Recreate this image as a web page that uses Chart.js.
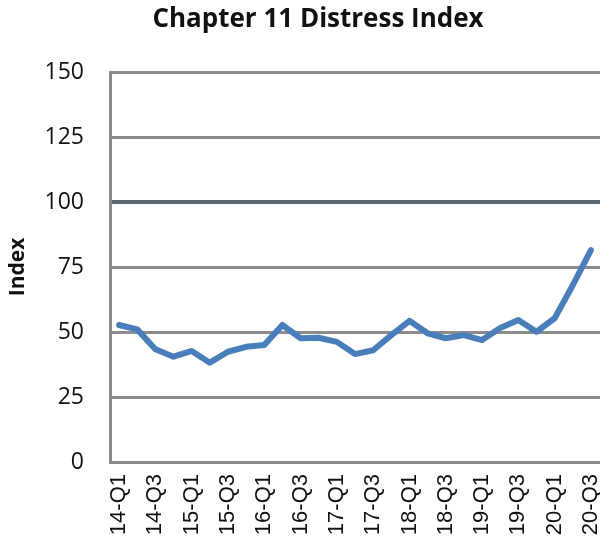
<!DOCTYPE html>
<html>
<head>
<meta charset="utf-8">
<script src="https://cdn.jsdelivr.net/npm/chart.js@4/dist/chart.umd.min.js"></script>
<style>
  html, body { margin: 0; padding: 0; background: #ffffff; }
  #wrap { width: 600px; height: 544px; position: relative; }
</style>
</head>
<body>
<div id="wrap"><canvas id="c" width="600" height="544"></canvas></div>
<script>
const categories = [
  "14-Q1","14-Q2","14-Q3","14-Q4",
  "15-Q1","15-Q2","15-Q3","15-Q4",
  "16-Q1","16-Q2","16-Q3","16-Q4",
  "17-Q1","17-Q2","17-Q3","17-Q4",
  "18-Q1","18-Q2","18-Q3","18-Q4",
  "19-Q1","19-Q2","19-Q3","19-Q4",
  "20-Q1","20-Q2","20-Q3"
];
const distressIndex = [
  52.7, 51.0, 43.4, 40.5,
  42.7, 38.2, 42.4, 44.3,
  45.0, 52.7, 47.6, 47.8,
  46.2, 41.5, 43.0, 48.8,
  54.3, 49.5, 47.6, 48.8,
  46.9, 51.5, 54.6, 50.1,
  55.3, 68.0, 81.5
];
const yTicks = [0, 25, 50, 75, 100, 125, 150];
const titleText = "Chapter 11 Distress Index";
const yAxisTitle = "Index";

const titlePlugin = {
  id: 'chartTitle',
  afterDraw(chart) {
    const ctx = chart.ctx;
    ctx.save();
    ctx.font = 'bold 26px "Open Sans"';
    ctx.fillStyle = '#111111';
    ctx.textAlign = 'center';
    ctx.textBaseline = 'middle';
    ctx.fillText(titleText, 318, 20);
    ctx.restore();
  }
};

new Chart(document.getElementById('c'), {
  type: 'line',
  data: {
    labels: categories,
    datasets: [{
      label: titleText,
      data: distressIndex,
      borderColor: '#4a7ebb',
      borderWidth: 6,
      pointRadius: 0,
      tension: 0,
      fill: false,
      borderCapStyle: 'round',
      borderJoinStyle: 'round'
    }]
  },
  plugins: [titlePlugin],
  options: {
    responsive: false,
    animation: false,
    layout: { padding: { left: 0, right: 0, top: 72, bottom: 0 } },
    plugins: {
      legend: { display: false },
      tooltip: { enabled: false },
      title: { display: false }
    },
    scales: {
      x: {
        offset: true,
        grid: { display: false, drawTicks: false },
        border: { display: false },
        ticks: {
          autoSkip: false,
          maxRotation: 90,
          minRotation: 90,
          color: '#111111',
          padding: 12,
          font: { family: 'Liberation Sans', size: 22 },
          callback: function(v, i) { return i % 2 === 0 ? categories[i] : ''; }
        },
        afterFit: function(s) { s.height = 82; s.paddingRight = 0; s.paddingLeft = 0; }
      },
      y: {
        min: 0,
        max: 150,
        afterBuildTicks: function(s) { s.ticks = yTicks.map(v => ({ value: v })); },
        grid: {
          drawTicks: false,
          color: function(ctx) { return ctx.tick && ctx.tick.value === 100 ? '#5b6770' : '#8c8c8c'; },
          lineWidth: function(ctx) { return ctx.tick && ctx.tick.value === 100 ? 4 : 3; }
        },
        border: { display: true, color: '#8c8c8c', width: 3 },
        title: {
          display: true,
          text: yAxisTitle,
          color: '#111111',
          font: { family: 'Open Sans', size: 21, weight: 'bold' },
          padding: { top: 5, bottom: 0 }
        },
        ticks: {
          color: '#111111',
          padding: 26,
          font: { family: 'Open Sans', size: 23 }
        },
        afterFit: function(s) { s.width = 110; s.paddingTop = 0; s.paddingBottom = 0; }
      }
    }
  }
});
</script>
</body>
</html>
